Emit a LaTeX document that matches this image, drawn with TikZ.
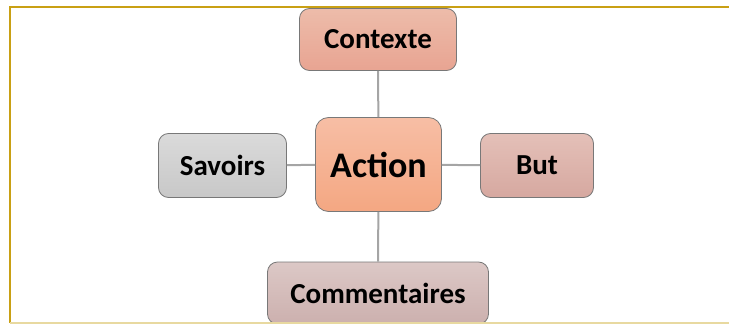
\documentclass[tikz,border=0pt]{standalone}
\usepackage{fontspec}
\setmainfont{Carlito}
\definecolor{boxedge}{RGB}{120,120,120}
\definecolor{linkgray}{RGB}{165,165,165}
\definecolor{framegold}{RGB}{201,160,20}
\definecolor{framelight}{RGB}{232,217,160}
\begin{document}
\begin{tikzpicture}[x=1pt, y=1pt, yscale=-1,
  box/.style={draw=boxedge, line width=0.8pt, rounded corners=10pt, inner sep=0pt,
    font=\fontsize{29}{34}\selectfont\bfseries},
  link/.style={draw=linkgray, line width=2pt}]
\useasboundingbox (0,0) rectangle (729,324);
% boxes
\node[box, top color={rgb,255:red,237;green,188;blue,170}, bottom color={rgb,255:red,232;green,164;blue,146},
  minimum width=157pt, minimum height=62pt] (contexte) at (378,39.5) {Contexte};
\node[box, rounded corners=13pt, top color={rgb,255:red,247;green,190;blue,165}, bottom color={rgb,255:red,244;green,167;blue,130},
  minimum width=126pt, minimum height=94pt, font=\fontsize{36}{42}\selectfont\bfseries] (action) at (378.5,164.5) {Action};
\node[box, top color={rgb,255:red,218;green,218;blue,218}, bottom color={rgb,255:red,200;green,200;blue,200},
  minimum width=128pt, minimum height=64pt] (savoirs) at (222.5,165.5) {Savoirs};
\node[box, top color={rgb,255:red,228;green,192;blue,184}, bottom color={rgb,255:red,214;green,168;blue,160},
  minimum width=113pt, minimum height=64pt] (but) at (537,165.5) {But};
\node[box, top color={rgb,255:red,220;green,200;blue,198}, bottom color={rgb,255:red,204;green,176;blue,174},
  minimum width=221pt, minimum height=62pt] (commentaires) at (378,293) {Commentaires};
% links
\path[link] (contexte) -- (action);
\path[link] (savoirs) -- (action);
\path[link] (action) -- (but);
\path[link] (action) -- (commentaires);
% frame
\path[draw=framegold, line width=2pt] (729,6.5) -- (9.5,6.5) -- (9.5,323);
\path[draw=framelight, line width=1.5pt] (9.5,323) -- (729,323);
\end{tikzpicture}
\end{document}
